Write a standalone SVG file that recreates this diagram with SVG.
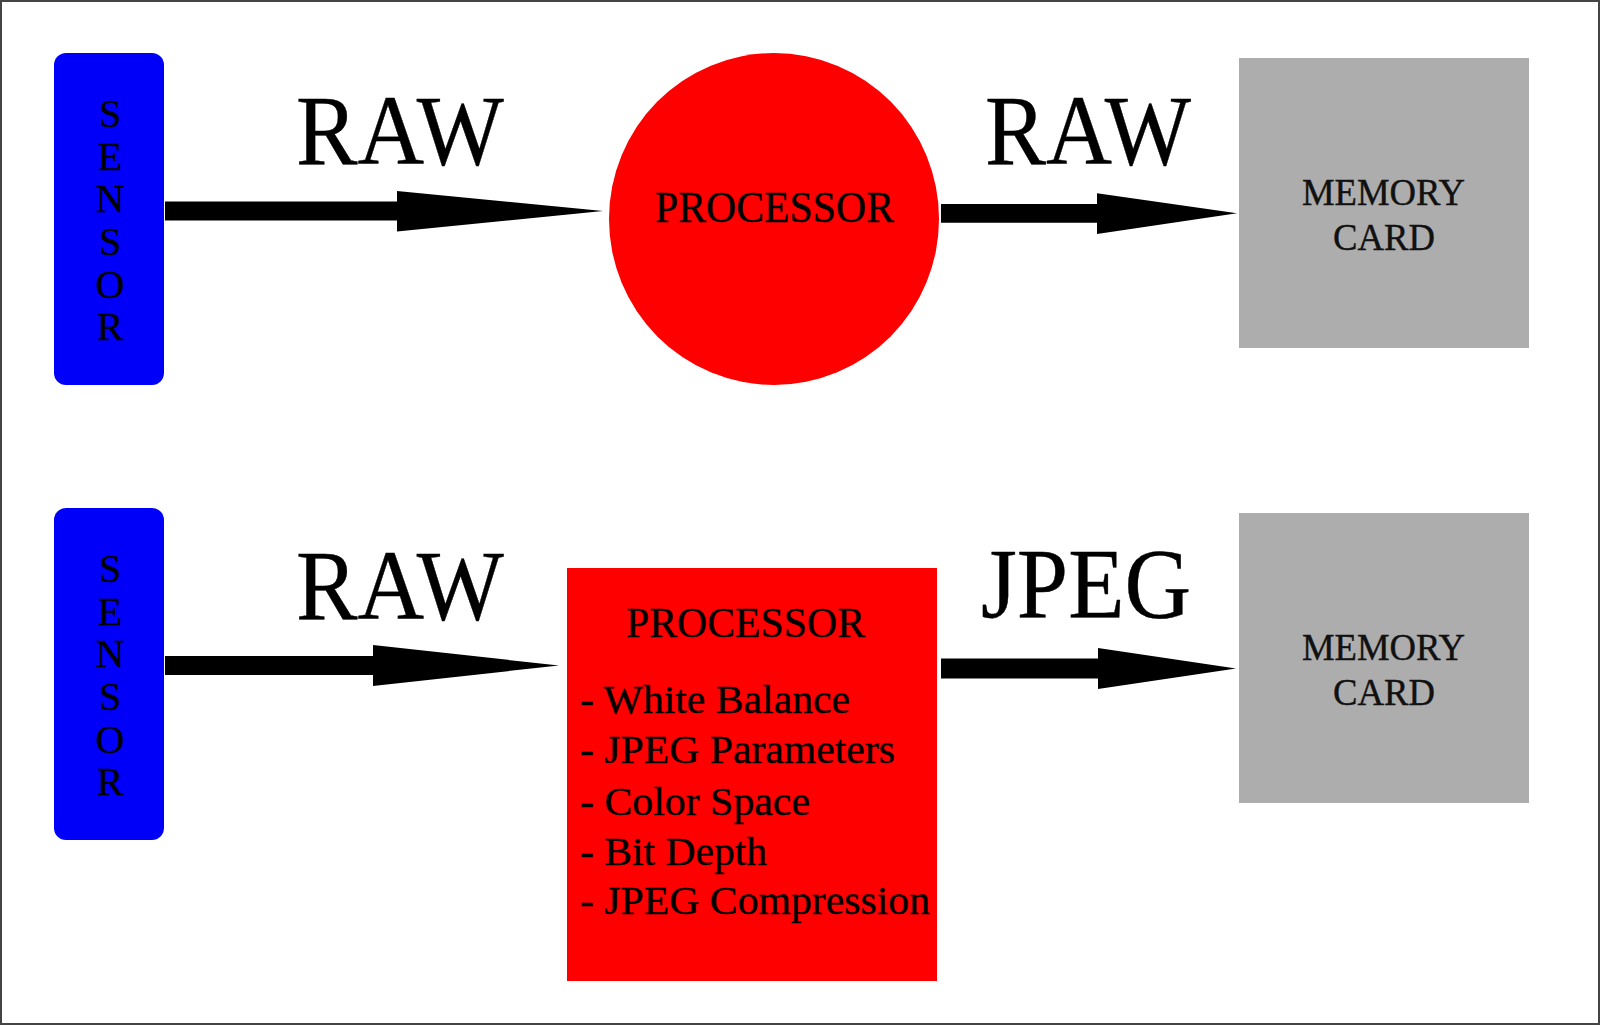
<svg xmlns="http://www.w3.org/2000/svg" width="1600" height="1025" viewBox="0 0 1600 1025">
<style>
.t{font-family:"Liberation Serif","Times New Roman",serif;fill:#000;stroke:#000;stroke-width:0.4}
.sensor{fill:#0000fa}
.proc{fill:#ff0000}
.mem{fill:#adadad}
.big{font-size:100px}
.sl{font-size:40px;text-anchor:middle}
.mt{font-size:38px;fill:#111;stroke:#111}
.li{font-size:41px}
.arrow{fill:#000}
</style>
<rect x="0" y="0" width="1600" height="1025" fill="#fff"/>
<rect x="1" y="1" width="1598" height="1023" fill="none" stroke="#444" stroke-width="2"/>

<g id="sensor1">
<rect class="sensor" x="54" y="53" width="110" height="332" rx="12"/>
<text class="t sl"><tspan x="110" y="127">S</tspan><tspan x="110" y="170">E</tspan><tspan x="110" y="212">N</tspan><tspan x="110" y="255">S</tspan><tspan x="110" y="298">O</tspan><tspan x="110" y="340">R</tspan></text>
</g>
<g id="processor1">
<ellipse class="proc" cx="774" cy="219" rx="165" ry="166"/>
<text class="t" x="655" y="222" font-size="44" textLength="239" lengthAdjust="spacingAndGlyphs">PROCESSOR</text>
</g>
<g id="memory1">
<rect class="mem" x="1239" y="58" width="290" height="290"/>
<text class="t mt" x="1302" y="205" textLength="163" lengthAdjust="spacingAndGlyphs">MEMORY</text>
<text class="t mt" x="1333" y="250" textLength="102" lengthAdjust="spacingAndGlyphs">CARD</text>
</g>

<g id="sensor2">
<rect class="sensor" x="54" y="508" width="110" height="332" rx="12"/>
<text class="t sl"><tspan x="110" y="582">S</tspan><tspan x="110" y="625">E</tspan><tspan x="110" y="667">N</tspan><tspan x="110" y="710">S</tspan><tspan x="110" y="753">O</tspan><tspan x="110" y="795">R</tspan></text>
</g>
<g id="processor2">
<rect class="proc" x="567" y="568" width="370" height="413"/>
<text class="t" x="626" y="637" font-size="42" textLength="239" lengthAdjust="spacingAndGlyphs">PROCESSOR</text>
<text class="t li" x="580" y="713" textLength="270" lengthAdjust="spacingAndGlyphs">- White Balance</text>
<text class="t li" x="580" y="763" textLength="315" lengthAdjust="spacingAndGlyphs">- JPEG Parameters</text>
<text class="t li" x="580" y="815" textLength="230" lengthAdjust="spacingAndGlyphs">- Color Space</text>
<text class="t li" x="580" y="865" textLength="187" lengthAdjust="spacingAndGlyphs">- Bit Depth</text>
<text class="t li" x="580" y="914" textLength="350" lengthAdjust="spacingAndGlyphs">- JPEG Compression</text>
</g>
<g id="memory2">
<rect class="mem" x="1239" y="513" width="290" height="290"/>
<text class="t mt" x="1302" y="660" textLength="163" lengthAdjust="spacingAndGlyphs">MEMORY</text>
<text class="t mt" x="1333" y="705" textLength="102" lengthAdjust="spacingAndGlyphs">CARD</text>
</g>

<g id="connectors">
<path class="arrow" d="M165,201.5 H397 V191 L603,211 L397,231.5 V220.5 H165 Z"/>
<path class="arrow" d="M941,204 H1097 V193.3 L1237,213.3 L1097,234 V222.7 H941 Z"/>
<path class="arrow" d="M165,656 H373 V645 L559,665.5 L373,686 V675 H165 Z"/>
<path class="arrow" d="M941,658.5 H1098 V648 L1236,668.5 L1098,689 V678.5 H941 Z"/>
<text class="t big" x="296" y="164" textLength="208" lengthAdjust="spacingAndGlyphs">RAW</text>
<text class="t big" x="985" y="164" textLength="206" lengthAdjust="spacingAndGlyphs">RAW</text>
<text class="t big" x="296" y="619" textLength="208" lengthAdjust="spacingAndGlyphs">RAW</text>
<text class="t big" x="981" y="617" textLength="210" lengthAdjust="spacingAndGlyphs">JPEG</text>
</g>
</svg>
